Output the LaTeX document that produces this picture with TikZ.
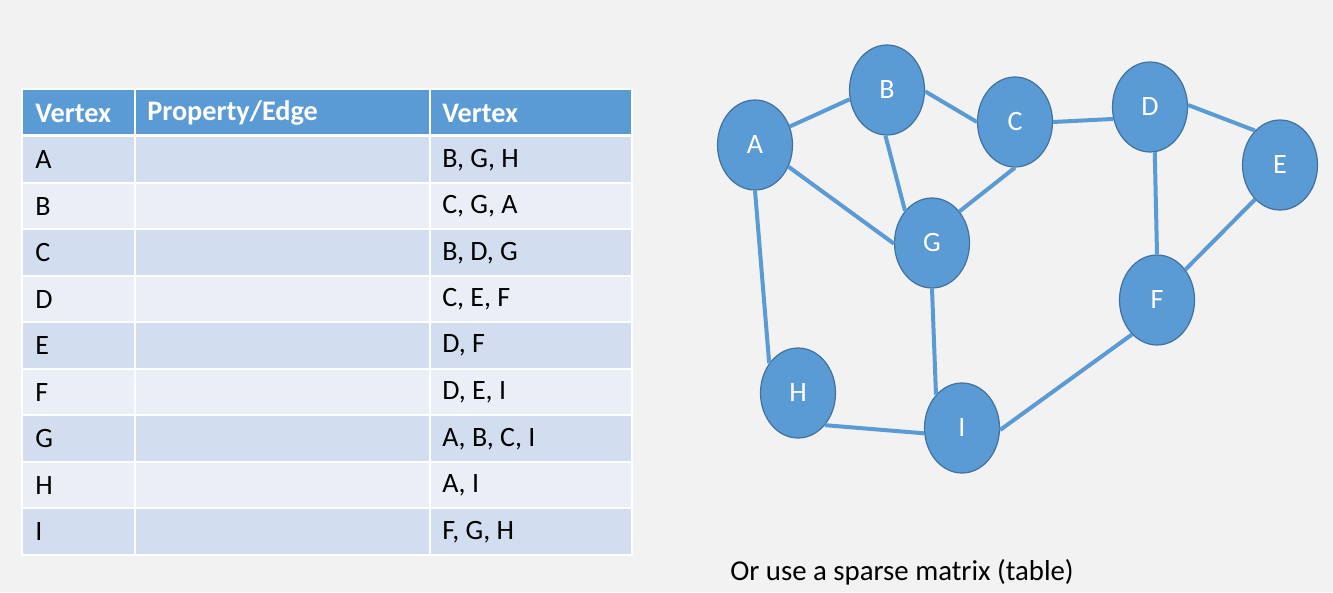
\documentclass[tikz,border=0pt]{standalone}
\usepackage{fontspec}
\setmainfont{Carlito}
\usetikzlibrary{shapes.geometric}
\definecolor{bg}{HTML}{F2F2F2}
\definecolor{hdr}{HTML}{5B9BD5}
\definecolor{rowdark}{HTML}{D2DEEF}
\definecolor{rowlight}{HTML}{EAEFF7}
\definecolor{nodefill}{HTML}{5B9BD5}
\definecolor{nodeline}{HTML}{41719C}
\definecolor{edgecol}{HTML}{5B9BD5}
\tikzset{
  vtx/.style={ellipse, fill=nodefill, draw=nodeline, line width=0.9pt,
    minimum width=56.25pt, minimum height=67.5pt, inner sep=0pt,
    text=white, font=\fontsize{21}{25}\selectfont},
  edge/.style={draw=edgecol, line width=3pt},
  hdrtxt/.style={anchor=west, text=white, inner sep=0pt, font=\fontsize{21.2}{25}\selectfont\bfseries},
  celltxt/.style={anchor=west, text=black, inner sep=0pt, font=\fontsize{21}{25}\selectfont},
  cell/.style={draw=white, line width=1.5pt}
}
\begin{document}
\begin{tikzpicture}[x=0.75pt, y=-0.75pt]
\fill[bg] (0,0) rectangle (1333,592);
\useasboundingbox (0,0) rectangle (1333,592);
% header
\foreach \a/\b in {22/135, 135/430, 430/632}{
  \filldraw[cell, fill=hdr] (\a,89) rectangle (\b,134.5);
}
% rows
\foreach \i in {0,...,8}{
  \pgfmathsetmacro{\ytop}{136+46.5*\i}
  \pgfmathsetmacro{\ybot}{136+46.5*(\i+1)}
  \pgfmathtruncatemacro{\rowpar}{mod(\i,2)}
  \ifnum\rowpar=0 \def\rc{rowdark}\else\def\rc{rowlight}\fi
  \foreach \a/\b in {22/135, 135/430, 430/632}{
    \filldraw[cell, fill=\rc] (\a,\ytop) rectangle (\b,\ybot);
  }
}
\draw[white, line width=2.5pt] (22,135.2) -- (632,135.2);
\node[hdrtxt] (h1) at (35,113) {Vertex};
\node[hdrtxt] (h2) at (147,113) {Property/Edge};
\node[hdrtxt] (h3) at (442,113) {Vertex};
\foreach \v/\n [count=\k from 0] in {A/{B, G, H}, B/{C, G, A}, C/{B, D, G}, D/{C, E, F}, E/{D, F}, F/{D, E, I}, G/{A, B, C, I}, H/{A, I}, I/{F, G, H}}{
  \pgfmathsetmacro{\yy}{136+46.5*\k+23.75}
  \node[celltxt] (r\v) at (35,\yy) {\v};
  \node[celltxt] (n\v) at (442,\yy) {\n};
}
% graph nodes
\node[vtx] (A) at (755,145) {A};
\node[vtx] (B) at (887,90) {B};
\node[vtx] (C) at (1015,122) {C};
\node[vtx] (D) at (1150,107) {D};
\node[vtx] (E) at (1280,165) {E};
\node[vtx] (F) at (1157,300) {F};
\node[vtx] (G) at (932,243) {G};
\node[vtx] (H) at (798,393) {H};
\node[vtx] (I) at (962,428) {I};
% edges
\draw[edge] (A.28) -- (B.194);
\draw[edge] (A.-33) -- (G.181);
\draw[edge] (A.-90) -- (H.134);
\draw[edge] (B.-92) -- (G.130);
\draw[edge] (B.-2) -- (C.180);
\draw[edge] (C.-90) -- (G.49);
\draw[edge] (C.0) -- (D.198);
\draw[edge] (D.3) -- (E.126);
\draw[edge] (D.-84) -- (F.90);
\draw[edge] (E.234) -- (F.47);
\draw[edge] (F.234) -- (I.-3);
\draw[edge] (G.-90) -- (I.128);
\draw[edge] (H.-50) -- (I.188);
\node[anchor=west, inner sep=0pt, font=\fontsize{21.6}{26}\selectfont] (cap) at (730,572) {Or use a sparse matrix (table)};
\end{tikzpicture}
\end{document}
